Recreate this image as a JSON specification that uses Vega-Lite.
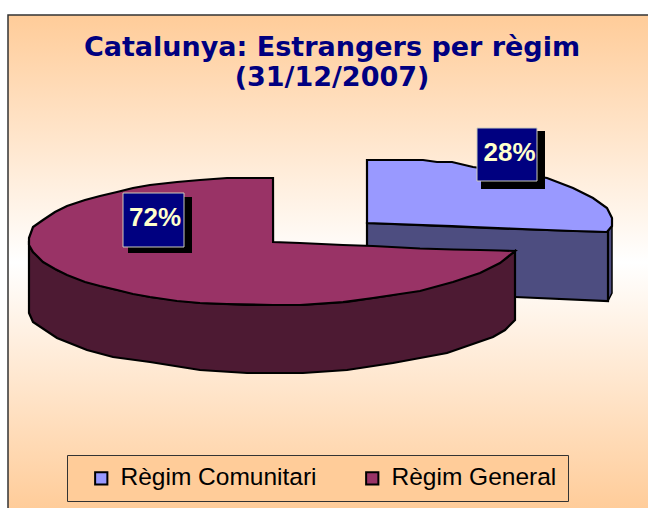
{"$schema":"https://vega.github.io/schema/vega-lite/v6.json","width":648,"height":508,"padding":0,"autosize":{"type":"none"},"background":"white",
"title":{"text":["Catalunya: Estrangers per règim","(31/12/2007)"],"font":"DejaVu Sans","fontWeight":"bold","fontSize":27,"color":"#000080","anchor":"middle","frame":"group","dx":8,"dy":96,"lineHeight":30},
"config":{"view":{"stroke":null}},
"datasets":{
"frame":[{"x":8,"x2":650,"y":15,"y2":510}],
"top":[
{"r":"Règim Comunitari","x":367,"y":160,"y2":223},{"r":"Règim Comunitari","x":423,"y":160,"y2":225},{"r":"Règim Comunitari","x":437,"y":162,"y2":225.6},{"r":"Règim Comunitari","x":452,"y":162,"y2":226},{"r":"Règim Comunitari","x":473,"y":167,"y2":227},{"r":"Règim Comunitari","x":510,"y":172,"y2":228.5},{"r":"Règim Comunitari","x":547,"y":178,"y2":230},{"r":"Règim Comunitari","x":573,"y":188,"y2":231},{"r":"Règim Comunitari","x":593,"y":198,"y2":231.5},{"r":"Règim Comunitari","x":607,"y":208,"y2":232},{"r":"Règim Comunitari","x":612,"y":218,"y2":226},
{"r":"Règim General","x":29,"y":238,"y2":245},{"r":"Règim General","x":33,"y":227,"y2":252},{"r":"Règim General","x":43,"y":220,"y2":262},{"r":"Règim General","x":55,"y":212,"y2":269},{"r":"Règim General","x":67,"y":206,"y2":275},{"r":"Règim General","x":85,"y":200,"y2":282},{"r":"Règim General","x":100,"y":196,"y2":286},{"r":"Règim General","x":117,"y":192,"y2":290},{"r":"Règim General","x":133,"y":188,"y2":294},{"r":"Règim General","x":150,"y":185,"y2":297},{"r":"Règim General","x":177,"y":182,"y2":301},{"r":"Règim General","x":200,"y":180,"y2":303},{"r":"Règim General","x":227,"y":178,"y2":304},{"r":"Règim General","x":273,"y":178,"y2":305},{"r":"Règim General","x":273.1,"y":242,"y2":305},{"r":"Règim General","x":300,"y":243,"y2":305},{"r":"Règim General","x":343,"y":245,"y2":302},{"r":"Règim General","x":373,"y":246,"y2":298},{"r":"Règim General","x":420,"y":248.5,"y2":291},{"r":"Règim General","x":453,"y":249.5,"y2":282},{"r":"Règim General","x":480,"y":250,"y2":273},{"r":"Règim General","x":500,"y":250.5,"y2":263},{"r":"Règim General","x":515,"y":251,"y2":251}],
"wallGeneral":[{"x":29,"y":245,"y2":313},{"x":33,"y":252,"y2":322},{"x":57,"y":270,"y2":338},{"x":87,"y":282,"y2":350},{"x":113,"y":289,"y2":357},{"x":150,"y":297,"y2":362},{"x":200,"y":303,"y2":370},{"x":247,"y":305,"y2":373},{"x":303,"y":305,"y2":373},{"x":347,"y":302,"y2":370},{"x":393,"y":295,"y2":363},{"x":447,"y":283,"y2":353},{"x":493,"y":266,"y2":337},{"x":505,"y":259,"y2":330},{"x":515,"y":251,"y2":320}],
"wallComunitari":[{"x":367,"y":223,"y2":291},{"x":515,"y":229,"y2":297},{"x":608,"y":232,"y2":301}],
"sideComunitari":[{"x":608,"y":232,"y2":301},{"x":612,"y":220,"y2":293}],
"labels":[{"t":"28%","x":477,"x2":537,"y":128,"y2":181,"sx":481,"sx2":545,"sy":131,"sy2":189,"tx":509.5,"ty":161},{"t":"72%","x":123,"x2":184,"y":193,"y2":247,"sx":128,"sx2":192,"sy":197,"sy2":253,"tx":155,"ty":226}]
},
"layer":[
{"data":{"name":"frame"},"mark":{"type":"rect","stroke":"#333333","strokeWidth":1.5,"fill":{"gradient":"linear","x1":0,"y1":0,"x2":0,"y2":1,"stops":[{"offset":0,"color":"#FFCC99"},{"offset":0.5,"color":"#FFFFFF"},{"offset":1,"color":"#FFCC99"}]}},
"encoding":{"x":{"field":"x","type":"quantitative","axis":null,"scale":{"domain":[0,648],"nice":false,"zero":false}},"x2":{"field":"x2"},"y":{"field":"y","type":"quantitative","axis":null,"scale":{"domain":[508,0],"nice":false,"zero":false}},"y2":{"field":"y2"}}},
{"data":{"name":"sideComunitari"},"mark":{"type":"area","fill":"#4D4D80","stroke":"black","strokeWidth":1.5},"encoding":{"x":{"field":"x","type":"quantitative"},"y":{"field":"y","type":"quantitative","stack":null},"y2":{"field":"y2"}}},
{"data":{"name":"wallComunitari"},"mark":{"type":"area","fill":"#4D4D80","stroke":"black","strokeWidth":2.2},"encoding":{"x":{"field":"x","type":"quantitative"},"y":{"field":"y","type":"quantitative","stack":null},"y2":{"field":"y2"}}},
{"data":{"name":"top"},"transform":[{"filter":"datum.r === 'Règim Comunitari'"}],"mark":{"type":"area","stroke":"black","strokeWidth":2.2,"fillOpacity":1},"encoding":{"x":{"field":"x","type":"quantitative"},"y":{"field":"y","type":"quantitative","stack":null},"y2":{"field":"y2"},"fill":{"field":"r","type":"nominal","scale":{"domain":["Règim Comunitari","Règim General"],"range":["#9999FF","#993366"]},"legend":{"title":null,"orient":"none","legendX":67,"legendY":455,"direction":"horizontal","columns":2,"fillColor":"#FFCC99","strokeColor":"#333333","padding":11,"columnPadding":32,"symbolType":"square","symbolSize":150,"symbolStrokeColor":"black","symbolStrokeWidth":2,"labelFont":"Liberation Sans","labelFontSize":24.5,"labelColor":"black","labelLimit":300,"labelOffset":7,"symbolOffset":11}}}},
{"data":{"name":"wallGeneral"},"mark":{"type":"area","fill":"#4D1A33","stroke":"black","strokeWidth":2.2},"encoding":{"x":{"field":"x","type":"quantitative"},"y":{"field":"y","type":"quantitative","stack":null},"y2":{"field":"y2"}}},
{"data":{"name":"top"},"transform":[{"filter":"datum.r === 'Règim General'"}],"mark":{"type":"area","stroke":"black","strokeWidth":2.2,"fillOpacity":1},"encoding":{"x":{"field":"x","type":"quantitative"},"y":{"field":"y","type":"quantitative","stack":null},"y2":{"field":"y2"},"fill":{"field":"r","type":"nominal"}}},
{"data":{"name":"labels"},"mark":{"type":"rect","fill":"black"},"encoding":{"x":{"field":"sx","type":"quantitative"},"x2":{"field":"sx2"},"y":{"field":"sy","type":"quantitative"},"y2":{"field":"sy2"}}},
{"data":{"name":"labels"},"mark":{"type":"rect","fill":"#000080","stroke":"#CCCCBB","strokeWidth":1},"encoding":{"x":{"field":"x","type":"quantitative"},"x2":{"field":"x2"},"y":{"field":"y","type":"quantitative"},"y2":{"field":"y2"}}},
{"data":{"name":"labels"},"mark":{"type":"text","font":"Liberation Sans","fontWeight":"bold","fontSize":26,"color":"#FFFFCC","baseline":"alphabetic","align":"center"},"encoding":{"x":{"field":"tx","type":"quantitative"},"y":{"field":"ty","type":"quantitative"},"text":{"field":"t"}}}
]}
